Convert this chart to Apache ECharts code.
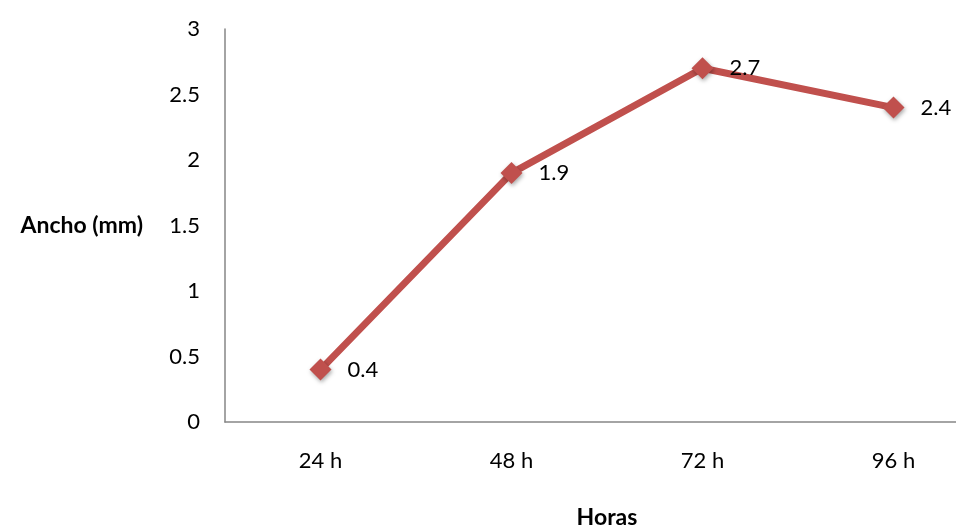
<!DOCTYPE html>
<html><head><meta charset="utf-8">
<script src="https://cdn.jsdelivr.net/npm/echarts@6/dist/echarts.min.js"></script>
<style>html,body{margin:0;padding:0;background:#fff}#c{width:956px;height:525px}</style>
</head><body><div id="c"></div>
<script>
const categories = ['24 h', '48 h', '72 h', '96 h'];
const values = [0.4, 1.9, 2.7, 2.4];
const yTicks = { min: 0, max: 3, interval: 0.5 };
const xName = 'Horas';
const yName = 'Ancho (mm)';

const font = 'Lato, "Open Sans", sans-serif';
const chart = echarts.init(document.getElementById('c'), null, { renderer: 'canvas' });
chart.setOption({
  animation: false,
  backgroundColor: '#fff',
  grid: { left: 225, right: -33, top: 29, bottom: 103, containLabel: false, outerBoundsMode: 'none' },
  xAxis: {
    type: 'category', data: categories, boundaryGap: true,
    name: xName, nameLocation: 'middle', nameGap: 84,
    nameTextStyle: { fontFamily: font, fontSize: 23, fontWeight: 'bold', color: '#000' },
    axisLine: { lineStyle: { color: '#868686', width: 1.5 } },
    axisTick: { show: false },
    axisLabel: { fontFamily: font, fontSize: 22, color: '#000', margin: 28 }
  },
  yAxis: {
    type: 'value', min: yTicks.min, max: yTicks.max, interval: yTicks.interval,
    name: yName, nameLocation: 'middle', nameRotate: 0, nameGap: 82,
    nameTextStyle: { fontFamily: font, fontSize: 23, fontWeight: 'bold', color: '#000' },
    axisLine: { show: true, lineStyle: { color: '#868686', width: 1.5 } },
    axisTick: { show: false },
    splitLine: { show: false },
    axisLabel: { fontFamily: font, fontSize: 22, color: '#000', margin: 25 }
  },
  series: [{
    type: 'line', data: values,
    symbol: 'diamond', symbolSize: 22,
    lineStyle: { color: '#C0504D', width: 7 },
    itemStyle: { color: '#C0504D', shadowBlur: 4, shadowColor: 'rgba(0,0,0,0.35)', shadowOffsetX: 1, shadowOffsetY: 2 },
    label: { show: true, position: 'right', distance: 16, fontFamily: font, fontSize: 22, color: '#000' }
  }]
});
</script></body></html>
